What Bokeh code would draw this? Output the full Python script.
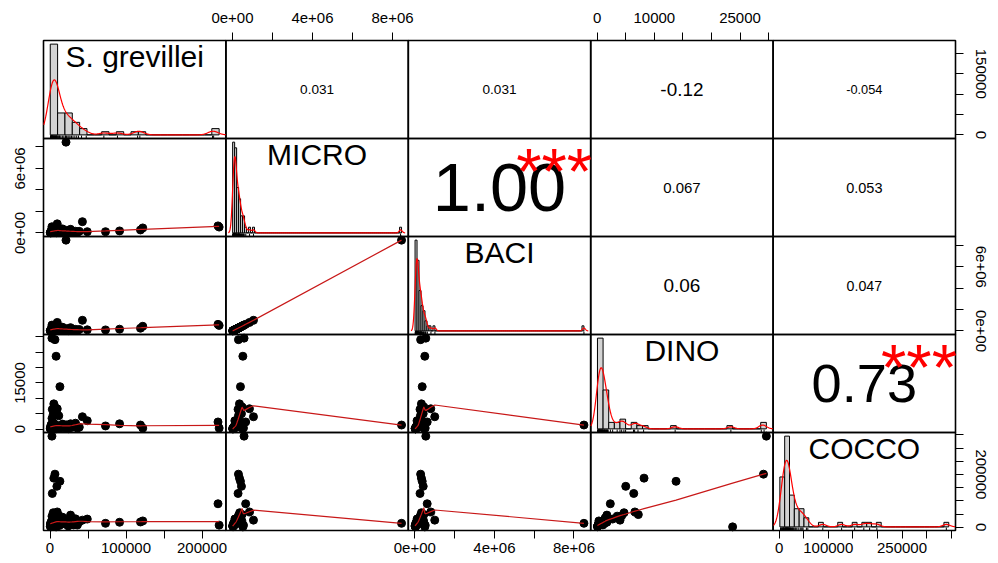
import numpy as np
from bokeh.plotting import figure
from bokeh.models import Range1d, LinearAxis, FixedTicker
from bokeh.core.properties import value
from bokeh.embed import file_html
from bokeh.resources import INLINE

# ---------------- data ----------------
var_names = ["S. grevillei", "MICRO", "BACI", "DINO", "COCCO"]

SG = [21000, 2500, 6500, 8000, 13000, 5000, 3000, 9000, 42600, 49000, 73000, 91500,
      119000, 122000, 221000, 222500,
      300, 500, 800, 1000, 1200, 1500, 1800, 2000, 2200, 2600, 3000, 3400, 3800, 4200,
      4600, 5200, 5800, 6300, 7000, 7500, 8200, 8800, 9500, 10500, 11500, 12500, 14500,
      16500, 18500, 20500, 22000, 24000, 25500, 27000, 29000, 31000, 33500, 36000, 38500]

MICRO = [8450000, 580000, 300000, 520000, 400000, 350000, 280000, 450000, 1050000, 120000,
         120000, 190000, 280000, 470000, 660000, 550000,
         20000, 50000, 10000, 80000, 150000, 30000, 250000, 110000, 60000, 320000, 90000,
         180000, 40000, 360000, 130000, 220000, 70000, 480000, 160000, 280000, 20000, 120000,
         850000, 100000, 300000, 50000, 170000, 380000, 80000, 140000, 240000, 30000, 190000,
         340000, 90000, 120000, 160000, 60000, 150000]

BACI = [8500000, 550000, 290000, 500000, 370000, 330000, 260000, 420000, 1000000, 110000,
        100000, 170000, 260000, 440000, 620000, 520000,
        20000, 40000, 10000, 70000, 140000, 30000, 230000, 100000, 50000, 300000, 80000,
        170000, 40000, 330000, 120000, 200000, 60000, 450000, 150000, 260000, 20000, 110000,
        800000, 90000, 280000, 50000, 160000, 350000, 70000, 130000, 220000, 30000, 180000,
        310000, 80000, 110000, 150000, 50000, 140000]

DINO = [1300, 29600, 29100, 23700, 13800, 8200, 6400, 5000, 4000, 2700, 1000, 1700,
        1300, 300, 2300, 300,
        100, 400, 200, 700, 1200, 50, 1500, 600, 300, 3500, 900, 1100, 150, 4700, 800, 1800,
        250, 7200, 500, 1400, 80, 650, 6600, 350, 4300, 200, 950, 1600, 450, 750, 1300, 100,
        850, 1700, 550, 1000, 1900, 300, 600]

COCCO = [15000, 345000, 201000, 1500, 174000, 186000, 128000, 155000, 27000, 31000, 15000,
         19000, 20000, 24000, 89000, 8000,
         3000, 12000, 6000, 14000, 18000, 2000, 22000, 11000, 16000, 42000, 13000, 17000, 8000,
         55000, 15000, 26000, 10500, 48000, 19000, 35000, 4500, 12500, 58000, 16500, 44000,
         7000, 18500, 38000, 13500, 11500, 28000, 5000, 23000, 46000, 14500, 9000, 32000,
         8500, 21000]

corr_pairs = [(0, 1), (0, 2), (0, 3), (0, 4), (1, 2), (1, 3), (1, 4), (2, 3), (2, 4), (3, 4)]
corr_labels = ["0.031", "0.031", "-0.12", "-0.054", "1.00", "0.067", "0.053", "0.06", "0.047", "0.73"]
corr_stars = ["", "", "", "", "***", "", "", "", "", "***"]

sg_ticks = [0, 50000, 100000, 150000, 200000]
sg_bottom_labels = ["0", "", "100000", "", "200000"]
sg_right_labels = ["0", "", "", "150000", ""]
micro_ticks = [0, 2000000, 4000000, 6000000, 8000000]
micro_top_labels = ["0e+00", "", "4e+06", "", "8e+06"]
micro_left_labels = ["0e+00", "", "", "6e+06", ""]
baci_ticks = [0, 2000000, 4000000, 6000000, 8000000]
baci_bottom_labels = ["0e+00", "", "4e+06", "", "8e+06"]
baci_right_labels = ["0e+00", "", "", "6e+06", ""]
dino_ticks = [0, 5000, 10000, 15000, 20000, 25000, 30000]
dino_top_labels = ["0", "", "10000", "", "", "25000", ""]
dino_left_labels = ["0", "", "", "15000", "", "", ""]
cocco_ticks = [0, 50000, 100000, 150000, 200000, 250000, 300000, 350000]
cocco_bottom_labels = ["0", "", "100000", "", "", "250000", "", ""]
cocco_right_labels = ["0", "", "", "", "200000", "", "", ""]

data = [np.array(v, dtype=float) for v in (SG, MICRO, BACI, DINO, COCCO)]
NV = len(data)

# ---------------- layout / style ----------------
FONT = "Liberation Sans"
W, H = 998, 563
LEFT, RIGHT, TOP, BOTTOM = 43, 43, 40, 33
PX = (W - LEFT - RIGHT) / NV      # pixels per panel (x)
PY = (H - TOP - BOTTOM) / NV      # pixels per panel (y)
U0X, U1X = -LEFT / PX, NV + RIGHT / PX      # main x range in panel units
U0Y, U1Y = -BOTTOM / PY, NV + TOP / PY      # main y range in panel units
SMOOTH_COL = "#C81818"


# ---------------- statistics as in R (hist FD, density, lowess) ----------------
def ext(lo, hi, f=0.04):
    d = hi - lo
    return lo - f * d, hi + f * d


def r_pretty(lo, hi, ndiv):
    cell = (hi - lo) / max(ndiv, 1)
    h = 1.5
    h5 = 0.5 + 1.5 * h
    U = 10 ** np.floor(np.log10(cell))
    unit = U
    if 2 * U - cell < h * (cell - unit):
        unit = 2 * U
        if 5 * U - cell < h5 * (cell - unit):
            unit = 5 * U
            if 10 * U - cell < h * (cell - unit):
                unit = 10 * U
    ns = np.floor(lo / unit + 1e-7)
    nu = np.ceil(hi / unit - 1e-7)
    return np.arange(ns, nu + 1) * unit


def r_hist(x):
    n = len(x)
    q75, q25 = np.percentile(x, [75, 25])
    hh = 2 * (q75 - q25) * n ** (-1.0 / 3)
    k = int(np.ceil((x.max() - x.min()) / hh)) if hh > 0 else 1
    br = r_pretty(x.min(), x.max(), k)
    idx = np.searchsorted(br, x, side="left") - 1
    idx[idx < 0] = 0
    cnt = np.bincount(idx, minlength=len(br) - 1)
    dens = cnt / (n * np.diff(br))
    return br, dens


def r_density(x, m=512):
    n = len(x)
    sd = x.std(ddof=1)
    q75, q25 = np.percentile(x, [75, 25])
    lo = min(sd, (q75 - q25) / 1.34)
    bw = 0.9 * lo * n ** (-0.2)
    gx = np.linspace(x.min() - 3 * bw, x.max() + 3 * bw, m)
    gy = np.exp(-0.5 * ((gx[:, None] - x[None, :]) / bw) ** 2).sum(1) / (n * bw * np.sqrt(2 * np.pi))
    return gx, gy


def lowess(x, y, f=2.0 / 3, it=3):
    o = np.argsort(x, kind="mergesort")
    x = x[o]
    y = y[o]
    n = len(x)
    ns = max(min(int(round(f * n)), n), 2)
    rw = np.ones(n)
    fit = np.zeros(n)
    rng = x[-1] - x[0]
    for k in range(it + 1):
        for i in range(n):
            d = np.abs(x - x[i])
            h = np.sort(d)[ns - 1]
            if h > 0:
                r = d / h
                w = np.where(r <= 0.999, (1 - np.clip(r, 0, 1) ** 3) ** 3, 0.0)
                w[d <= 0.001 * h] = 1.0
            else:
                w = (d == 0).astype(float)
            w = w * rw
            sw = w.sum()
            if sw <= 0:
                fit[i] = y[i]
                continue
            w = w / sw
            a = (w * x).sum()
            b = x[i] - a
            c = (w * (x - a) ** 2).sum()
            if np.sqrt(c) > 0.001 * rng:
                w = w * (b / c * (x - a) + 1.0)
            fit[i] = (w * y).sum()
        if k == it:
            break
        res = y - fit
        cmad = 6 * np.median(np.abs(res))
        if cmad < 1e-7 * np.mean(np.abs(y)):
            break
        r = np.abs(res) / cmad
        rw = np.where(r <= 0.999, (1 - r ** 2) ** 2, 0.0)
        rw[np.abs(res) <= 0.001 * cmad] = 1.0
    return x, fit


ARIAL_W = {c: 0.556 for c in "0123456789"}
ARIAL_W.update({".": 0.278, "-": 0.333})


def em_width(s):
    return sum(ARIAL_W[c] for c in s)


BASE_TEXT_W = 0.8 * 0.91 * 183


# column j occupies [j, j+1] of the main x range; row i occupies [NV-1-i, NV-i]
def col_range(j, lo, hi):
    d = hi - lo
    return Range1d(lo + (U0X - j) * d, lo + (U1X - j) * d)


def row_range(i, lo, hi):
    d = hi - lo
    r0 = NV - 1 - i
    return Range1d(lo + (U0Y - r0) * d, lo + (U1Y - r0) * d)


var_ranges = [ext(v.min(), v.max()) for v in data]

p = figure(width=W, height=H, x_range=Range1d(U0X, U1X), y_range=Range1d(U0Y, U1Y),
           output_backend="svg", toolbar_location=None,
           x_axis_location=None, y_axis_location=None, min_border=0,
           min_border_left=0, min_border_right=0, min_border_top=0, min_border_bottom=0)
p.grid.visible = False
p.outline_line_color = None
p.background_fill_color = "white"
p.border_fill_color = "white"

ranges_x = {}
ranges_y = {}
for k in range(NV):
    ranges_x[f"x{k}"] = col_range(k, *var_ranges[k])
    ranges_y[f"y{k}"] = row_range(k, *var_ranges[k])
    ranges_x[f"ux{k}"] = col_range(k, 0.0, 1.0)
    ranges_y[f"uy{k}"] = row_range(k, 0.0, 1.0)

hist_parts = []
for k in range(NV):
    x = data[k]
    brk, dens = r_hist(x)
    hx = ext(brk[0], brk[-1])
    hy = ext(0, dens.max())
    ranges_x[f"hx{k}"] = col_range(k, *hx)
    ranges_y[f"hy{k}"] = row_range(k, *hy)
    hist_parts.append((brk, dens, hx, hy))

p.extra_x_ranges = ranges_x
p.extra_y_ranges = ranges_y

# panel boxes (one per cell of the 5 x 5 layout)
cells = [(i, j) for i in range(NV) for j in range(NV)]
p.quad(left=[j for i, j in cells], right=[j + 1 for i, j in cells],
       bottom=[NV - 1 - i for i, j in cells], top=[NV - i for i, j in cells],
       fill_color=None, line_color="black", line_width=1.6)

# diagonal: histogram + density + rug + name
for k in range(NV):
    x = data[k]
    brk, dens, hx, hy = hist_parts[k]
    xr, yr = f"hx{k}", f"hy{k}"
    p.quad(left=brk[:-1], right=brk[1:], bottom=0, top=dens, fill_color="#D3D3D3",
           line_color="black", line_width=1, x_range_name=xr, y_range_name=yr)
    gx, gy = r_density(x)
    keep = (gx >= hx[0]) & (gx <= hx[1])
    gx, gy = gx[keep], gy[keep].copy()
    gy[gy > hy[1]] = np.nan
    p.line(gx, gy, line_color="red", line_width=1.2, x_range_name=xr, y_range_name=yr)
    rug_top = hy[0] + 0.03 * (hy[1] - hy[0])
    p.segment(x0=x, y0=hy[0], x1=x, y1=rug_top, line_color="black", line_width=1,
              x_range_name=xr, y_range_name=yr)
    p.text(x=[0.5], y=[0.833], text=[var_names[k]], x_range_name=f"ux{k}",
           y_range_name=f"uy{k}", text_font=value(FONT), text_font_size=value("30px"),
           text_align="center", text_baseline="middle", text_color="black")

# lower triangle: scatter + lowess
for i in range(NV):
    for j in range(i):
        p.scatter(data[j], data[i], size=8, marker="circle", fill_color="black",
                  line_color="black", x_range_name=f"x{j}", y_range_name=f"y{i}")
        lx, ly = lowess(data[j], data[i])
        p.line(lx, ly, line_color=SMOOTH_COL, line_width=1.2,
               x_range_name=f"x{j}", y_range_name=f"y{i}")

# upper triangle: correlation text + stars
for (i, j), txt, st in zip(corr_pairs, corr_labels, corr_stars):
    base = BASE_TEXT_W / em_width(txt)
    fs = base * (abs(float(txt)) + 0.3) / 1.3
    p.text(x=[0.5], y=[0.5], text=[txt], x_range_name=f"ux{j}", y_range_name=f"uy{i}",
           text_font=value(FONT), text_font_size=value(f"{fs:.1f}px"), text_align="center",
           text_baseline="middle", text_color="black")
    if st:
        p.text(x=[0.8], y=[0.8], text=[st], x_range_name=f"ux{j}", y_range_name=f"uy{i}",
               text_font=value(FONT), text_font_size=value(f"{base * 0.95:.1f}px"),
               text_align="center", text_baseline="middle", text_color="red",
               y_offset=0.2 * base)

# outer axes, drawn at the outer edges of the panel grid
axes_spec = [
    (4, 0, "below", sg_ticks, sg_bottom_labels),
    (4, 2, "below", baci_ticks, baci_bottom_labels),
    (4, 4, "below", cocco_ticks, cocco_bottom_labels),
    (0, 1, "above", micro_ticks, micro_top_labels),
    (0, 3, "above", dino_ticks, dino_top_labels),
    (1, 0, "left", micro_ticks, micro_left_labels),
    (3, 0, "left", dino_ticks, dino_left_labels),
    (0, 4, "right", sg_ticks, sg_right_labels),
    (2, 4, "right", baci_ticks, baci_right_labels),
    (4, 4, "right", cocco_ticks, cocco_right_labels),
]
standoff = {"below": 4, "above": 10, "left": 10, "right": 12}
edge = {"below": 0, "above": NV, "left": 0, "right": NV}
for i, j, side, ticks, labels in axes_spec:
    kw = {"x_range_name": f"x{j}"} if side in ("below", "above") else {"y_range_name": f"y{i}"}
    ax = LinearAxis(ticker=FixedTicker(ticks=ticks), fixed_location=edge[side],
                    major_label_overrides={t: l for t, l in zip(ticks, labels)}, **kw)
    ax.bounds = (ticks[0], ticks[-1])
    ax.axis_line_color = "black"
    ax.axis_line_width = 1
    ax.major_tick_line_color = "black"
    ax.major_tick_out = 8
    ax.major_tick_in = 0
    ax.minor_tick_line_color = None
    ax.major_label_text_font = FONT
    ax.major_label_text_font_size = "15px"
    ax.major_label_text_color = "black"
    ax.major_label_standoff = standoff[side]
    if side in ("left", "right"):
        ax.major_label_orientation = "vertical"
    p.add_layout(ax, side)

open("out.html", "w").write(file_html(p, INLINE))
